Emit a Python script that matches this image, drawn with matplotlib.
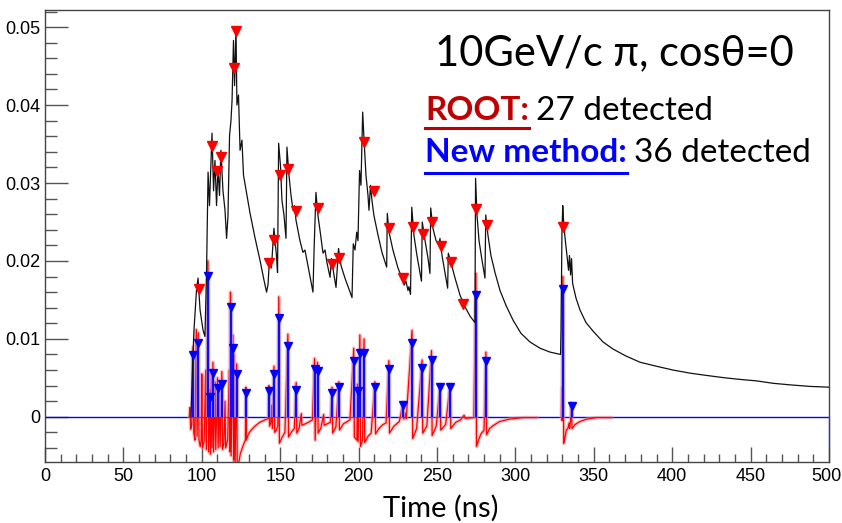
import matplotlib
matplotlib.use("Agg")
import matplotlib.pyplot as plt
from matplotlib.ticker import MultipleLocator, FixedLocator
from matplotlib.lines import Line2D
from matplotlib.transforms import ScaledTranslation
import numpy as np

# ---------------- data ----------------
# black: summed waveform
black_t = [93.1, 94.1, 95.0, 96.6, 97.6, 98.9, 100.8, 102.0, 103.0, 104.0, 104.9, 105.9, 106.5,
           107.5, 108.4, 109.4, 110.3, 111.3, 112.2, 113.5, 114.8, 115.8, 116.7, 117.7, 118.6,
           119.3, 120.2, 120.9, 121.8, 122.4, 123.4, 124.4, 125.6, 126.6, 128.2, 130.7, 133.9,
           137.1, 139.7, 141.3, 142.2, 143.2, 144.4, 146.0, 147.6, 148.3, 149.0, 150.2, 151.1,
           152.4, 153.7, 154.3, 155.6, 156.9, 158.2, 159.1, 160.1, 162.6, 164.5, 165.8, 167.7,
           170.9, 171.6, 172.8, 174.1, 175.4, 177.3, 178.6, 179.8, 181.8, 182.7, 184.3, 185.6,
           187.2, 188.8, 191.3, 194.5, 195.8, 196.6, 197.7, 198.8, 199.6, 200.6, 201.5, 202.6,
           203.5, 204.7, 206.0, 206.6, 207.6, 208.5, 209.8, 212.4, 214.9, 217.9, 218.3, 219.4,
           221.9, 225.1, 227.7, 229.0, 230.2, 231.5, 232.1, 233.1, 233.9, 235.3, 237.2, 240.1,
           240.6, 242.3, 244.3, 245.5, 246.0, 247.4, 249.4, 251.3, 251.9, 253.2, 255.1, 256.8,
           257.2, 258.9, 261.5, 264.7, 267.9, 271.1, 274.2, 274.6, 275.5, 276.8, 278.7, 280.6,
           281.1, 282.5, 284.4, 287.0, 290.2, 294.0, 298.5, 303.6, 309.3, 315.7, 322.1, 328.8,
           329.1, 329.7, 330.2, 330.7, 331.6, 332.9, 333.9, 334.5, 335.2, 335.8, 336.5, 338.7,
           341.2, 345.0, 349.5, 355.9, 362.2, 370.5, 379.5, 389.7, 400.5, 411.4, 422.2, 433.7,
           443.2, 454.1, 464.3, 475.1, 487.9, 500.0]
black_v = [0.0, 0.0066, 0.0111, 0.0162, 0.0178, 0.0137, 0.0111, 0.0103, 0.0182, 0.0314, 0.0271,
           0.0329, 0.0364, 0.0290, 0.0329, 0.0271, 0.0319, 0.0284, 0.0342, 0.0290, 0.0265, 0.0229,
           0.0258, 0.0361, 0.0380, 0.0406, 0.0483, 0.0425, 0.0500, 0.0400, 0.0413, 0.0342, 0.0355,
           0.0310, 0.0291, 0.0262, 0.0230, 0.0201, 0.0175, 0.0160, 0.0169, 0.0203, 0.0191, 0.0242,
           0.0207, 0.0185, 0.0351, 0.0322, 0.0278, 0.0259, 0.0229, 0.0346, 0.0310, 0.0284, 0.0265,
           0.0271, 0.0252, 0.0226, 0.0211, 0.0214, 0.0194, 0.0160, 0.0214, 0.0288, 0.0258, 0.0239,
           0.0210, 0.0214, 0.0198, 0.0179, 0.0203, 0.0182, 0.0166, 0.0216, 0.0194, 0.0178, 0.0160,
           0.0153, 0.0222, 0.0214, 0.0237, 0.0226, 0.0316, 0.0297, 0.0391, 0.0355, 0.0310, 0.0284,
           0.0265, 0.0297, 0.0278, 0.0258, 0.0233, 0.0211, 0.0192, 0.0261, 0.0237, 0.0214, 0.0191,
           0.0178, 0.0169, 0.0174, 0.0162, 0.0167, 0.0157, 0.0269, 0.0233, 0.0207, 0.0174, 0.0250,
           0.0227, 0.0203, 0.0184, 0.0268, 0.0242, 0.0226, 0.0222, 0.0229, 0.0207, 0.0185, 0.0165,
           0.0210, 0.0198, 0.0178, 0.0156, 0.0141, 0.0129, 0.0121, 0.0306, 0.0259, 0.0226, 0.0201,
           0.0178, 0.0259, 0.0233, 0.0207, 0.0185, 0.0162, 0.0143, 0.0124, 0.0107, 0.0096, 0.0088,
           0.0083, 0.0080, 0.0111, 0.0239, 0.0271, 0.0252, 0.0231, 0.0207, 0.0188, 0.0207, 0.0182,
           0.0203, 0.0171, 0.0152, 0.0137, 0.0121, 0.0110, 0.0096, 0.0087, 0.0078, 0.0070, 0.0065,
           0.0060, 0.0056, 0.0053, 0.0050, 0.0048, 0.0046, 0.0043, 0.0041, 0.0039, 0.0038]

# red: processed (differentiated) signal
red_t = [92.0, 92.5, 92.9, 93.6, 94.5, 94.9, 95.6, 96.5, 97.0, 97.7, 98.2, 99.0, 99.6, 100.0,
         100.4, 101.5, 102.5, 102.9, 103.9, 104.3, 105.1, 105.5, 106.1, 106.5, 107.1, 107.5,
         108.5, 108.9, 110.0, 110.4, 111.3, 111.7, 112.8, 113.2, 114.0, 114.8, 115.2, 116.5,
         117.5, 117.9, 118.3, 118.7, 119.9, 120.3, 120.8, 121.2, 122.2, 122.6, 123.5, 124.5,
         126.5, 127.8, 128.1, 128.4, 129.7, 131.5, 133.9, 137.0, 140.3, 142.5, 142.8, 143.2,
         144.0, 144.6, 145.0, 146.1, 146.5, 147.5, 148.5, 149.1, 149.5, 151.0, 153.0, 154.9,
         155.3, 157.0, 159.0, 160.2, 160.6, 162.0, 163.5, 163.8, 166.0, 168.0, 170.5, 171.9,
         172.3, 173.8, 174.2, 176.0, 177.7, 178.0, 180.0, 182.0, 183.1, 183.5, 185.5, 187.4,
         187.8, 190.3, 194.5, 196.9, 197.3, 198.9, 199.3, 199.7, 200.8, 201.2, 202.5, 203.5,
         203.9, 206.0, 208.0, 210.4, 210.8, 213.0, 215.5, 217.5, 219.3, 219.7, 222.5, 226.0,
         228.4, 228.8, 230.0, 230.4, 234.1, 234.5, 237.0, 240.5, 240.9, 243.5, 246.5, 246.9,
         249.5, 252.0, 252.4, 255.5, 258.4, 258.8, 262.0, 265.0, 267.3, 268.0, 273.5, 274.8,
         275.2, 276.5, 278.0, 280.0, 281.2, 281.6, 283.5, 286.0, 290.0, 296.0, 305.0, 313.6,
         np.nan,
         329.3, 329.5, 329.8, 330.3, 330.8, 331.5, 332.5, 333.5, 334.2, 334.6, 335.2, 335.7,
         336.1, 338.0, 341.2, 345.5, 352.0, 361.4]
red_v = [0.0, 0.0012, -0.0016, -0.0010, 0.0090, -0.0020, -0.0030, 0.0112, -0.0025, 0.0108,
         -0.0030, -0.0038, -0.0030, 0.0055, -0.0040, -0.0032, 0.0060, -0.0042, 0.0200, -0.0045,
         0.0035, -0.0048, 0.0060, -0.0040, 0.0070, -0.0045, 0.0045, -0.0042, 0.0050, -0.0040,
         0.0035, -0.0038, 0.0058, -0.0042, -0.0035, 0.0020, -0.0040, -0.0030, 0.0060, -0.0045,
         0.0160, -0.0050, 0.0105, -0.0055, 0.0080, -0.0065, 0.0068, -0.0065, -0.0060, -0.0048,
         -0.0036, -0.0030, 0.0038, -0.0030, -0.0022, -0.0017, -0.0012, -0.0007, -0.0004,
         -0.0002, 0.0040, -0.0012, -0.0008, 0.0015, -0.0015, 0.0065, -0.0020, -0.0017, -0.0012,
         0.0154, -0.0034, -0.0027, -0.0020, 0.0106, -0.0026, -0.0020, -0.0015, 0.0044, -0.0021,
         -0.0015, 0.0004, -0.0011, -0.0009, -0.0007, -0.0004, 0.0075, -0.0030, 0.0070, -0.0021,
         -0.0014, 0.0003, -0.0011, -0.0009, -0.0007, 0.0038, -0.0021, -0.0013, 0.0045, -0.0017,
         -0.0009, -0.0004, 0.0088, -0.0026, -0.0030, 0.0042, -0.0032, 0.0105, -0.0038, -0.0030,
         0.0100, -0.0033, -0.0025, -0.0021, 0.0045, -0.0022, -0.0015, -0.0010, -0.0008, 0.0072,
         -0.0021, -0.0012, -0.0006, 0.0019, -0.0003, 0.0005, -0.0002, 0.0111, -0.0028, -0.0015,
         0.0073, -0.0021, -0.0012, 0.0085, -0.0024, -0.0012, 0.0042, -0.0017, -0.0010, 0.0042,
         -0.0015, -0.0007, -0.0004, 0.0002, -0.0002, -0.0001, 0.0184, -0.0038, -0.0030, -0.0022,
         -0.0017, 0.0083, -0.0023, -0.0015, -0.0011, -0.0006, -0.0003, -0.0001, -0.0001,
         np.nan,
         0.0, 0.0037, -0.0005, 0.0180, -0.0034, -0.0028, -0.0017, -0.0015, -0.0008, -0.0015,
         -0.0004, 0.0018, -0.0015, -0.0010, -0.0006, -0.0003, -0.0001, -0.0001]

# blue: peaks found by the new method (36)
new_t = [94.6, 97.8, 104.1, 105.2, 107.1, 110.1, 112.9, 118.4, 120.1, 122.4, 128.1, 142.9,
         146.2, 149.2, 155.0, 160.3, 172.0, 173.9, 183.2, 187.5, 197.1, 199.3, 200.9, 203.6,
         210.5, 219.3, 228.5, 234.2, 240.6, 246.6, 252.1, 258.5, 274.9, 281.3, 330.4, 335.8]
new_v = [0.0079, 0.0095, 0.0181, 0.0025, 0.0056, 0.0037, 0.0042, 0.0141, 0.0088, 0.0055,
         0.0031, 0.0033, 0.0055, 0.0127, 0.0091, 0.0035, 0.0061, 0.0059, 0.0031, 0.0038,
         0.0072, 0.0033, 0.0082, 0.0082, 0.0038, 0.0061, 0.0015, 0.0095, 0.0062, 0.0073,
         0.0038, 0.0038, 0.0156, 0.0071, 0.0164, 0.0014]

# red triangles: peaks found by ROOT (27)
root_t = [98.2, 106.5, 109.7, 112.2, 120.5, 121.8, 143.0, 146.2, 149.9, 155.0, 159.9, 173.9,
          183.2, 187.5, 203.6, 209.8, 219.2, 228.5, 234.9, 241.3, 246.6, 252.3, 258.7, 266.8,
          274.7, 281.7, 330.6]
root_v = [0.0164, 0.0348, 0.0316, 0.0333, 0.0447, 0.0495, 0.0197, 0.0227, 0.0310, 0.0318,
          0.0264, 0.0268, 0.0196, 0.0204, 0.0353, 0.0290, 0.0242, 0.0178, 0.0244, 0.0235,
          0.0250, 0.0219, 0.0199, 0.0145, 0.0267, 0.0246, 0.0244]

x_ticks = [0, 50, 100, 150, 200, 250, 300, 350, 400, 450, 500]
y_ticks = [0, 0.01, 0.02, 0.03, 0.04, 0.05]
y_ticklabels = ["0", "0.01", "0.02", "0.03", "0.04", "0.05"]

title = "10GeV/c \u03c0, cos\u03b8=0"
root_label, root_count = "ROOT:", "27 detected"
new_label, new_count = "New method:", "36 detected"
xlabel = "Time (ns)"

# ---------------- figure ----------------
W, H = 842, 523
fig = plt.figure(figsize=(W / 100, H / 100), dpi=100)
fig.patch.set_facecolor("white")
ax = fig.add_axes([45 / W, 1 - 462 / H, (829 - 45) / W, (462 - 10) / H])
ax.set_xlim(0, 500)
ax.set_ylim(-0.0058, 0.0522)

for s in ax.spines.values():
    s.set_color("#444444")
    s.set_linewidth(1.0)

ax.xaxis.set_major_locator(FixedLocator(x_ticks))
ax.xaxis.set_minor_locator(MultipleLocator(10))
ax.yaxis.set_major_locator(FixedLocator(y_ticks))
ax.yaxis.set_minor_locator(MultipleLocator(0.002))
ax.set_yticklabels(y_ticklabels)
ax.set_xticklabels([str(v) for v in x_ticks])
tick_font = "Liberation Sans"
ax.tick_params(axis="x", which="major", direction="in", length=10.5, width=1.0,
               color="#555555", pad=4, labelsize=13, top=False)
ax.tick_params(axis="x", which="minor", direction="in", length=5.5, width=1.0,
               color="#555555", top=False)
ax.tick_params(axis="y", which="major", direction="in", length=16.5, width=1.0,
               color="#555555", pad=3.5, labelsize=13, right=False)
ax.tick_params(axis="y", which="minor", direction="in", length=8.5, width=1.0,
               color="#555555", right=False)
for lab in ax.get_xticklabels() + ax.get_yticklabels():
    lab.set_fontfamily(tick_font)
# keep the last x label inside the canvas, as in the reference
last = ax.get_xticklabels()[-1]
last.set_transform(last.get_transform() + ScaledTranslation(-3 / 100, 0, fig.dpi_scale_trans))

# baseline
ax.axhline(0, color="blue", lw=1.0, zorder=2)
ax.plot([500, 500], [0, -0.0038], color="#8080ff", lw=1.0, zorder=2, clip_on=False)

# red signal (pink halo + red line)
ax.plot(red_t, red_v, color="#ff9090", lw=2.6, alpha=0.55, zorder=3)
ax.plot(red_t, red_v, color="red", lw=0.9, zorder=4)

# blue stems
ax.vlines(new_t, 0, new_v, color="#9a9aff", lw=3.2, alpha=0.7, zorder=5)
ax.vlines(new_t, 0, new_v, color="blue", lw=1.3, zorder=6)

# black waveform
ax.plot(black_t, black_v, color="#111111", lw=0.9, zorder=7)

# markers
ax.plot(root_t, root_v, "v", color="red", mec="red", ms=7.5, zorder=9, clip_on=False)
ax.plot(new_t, new_v, "v", color="blue", mec="blue", ms=6.3, zorder=10)

# ---------------- texts ----------------
txt_font = ["Lato", "DejaVu Sans"]


def put(x, y, s, **kw):
    return fig.text(x / W, 1 - y / H, s, va="baseline", ha="left", family=txt_font, **kw)


put(435, 65, title, size=30, color="black")
renderer = fig.canvas.get_renderer()

t1 = put(425, 120, root_label, size=24, color="#c00000", weight="bold")
bb = t1.get_window_extent(renderer)
put(bb.x1 + 7, 120, root_count, size=24, color="black")
fig.add_artist(Line2D([425 / W, bb.x1 / W], [1 - 128 / H] * 2, color="#c00000", lw=2.2,
                      transform=fig.transFigure))

t2 = put(425, 162, new_label, size=24, color="blue", weight="bold")
bb2 = t2.get_window_extent(renderer)
put(bb2.x1 + 7, 162, new_count, size=24, color="black")
fig.add_artist(Line2D([425 / W, bb2.x1 / W], [1 - 173 / H] * 2, color="blue", lw=2.2,
                      transform=fig.transFigure))

fig.text(441 / W, 1 - 517 / H, xlabel, ha="center", va="baseline", family=txt_font,
         size=21, color="black")

fig.savefig("out.png", dpi=100, facecolor="white")
